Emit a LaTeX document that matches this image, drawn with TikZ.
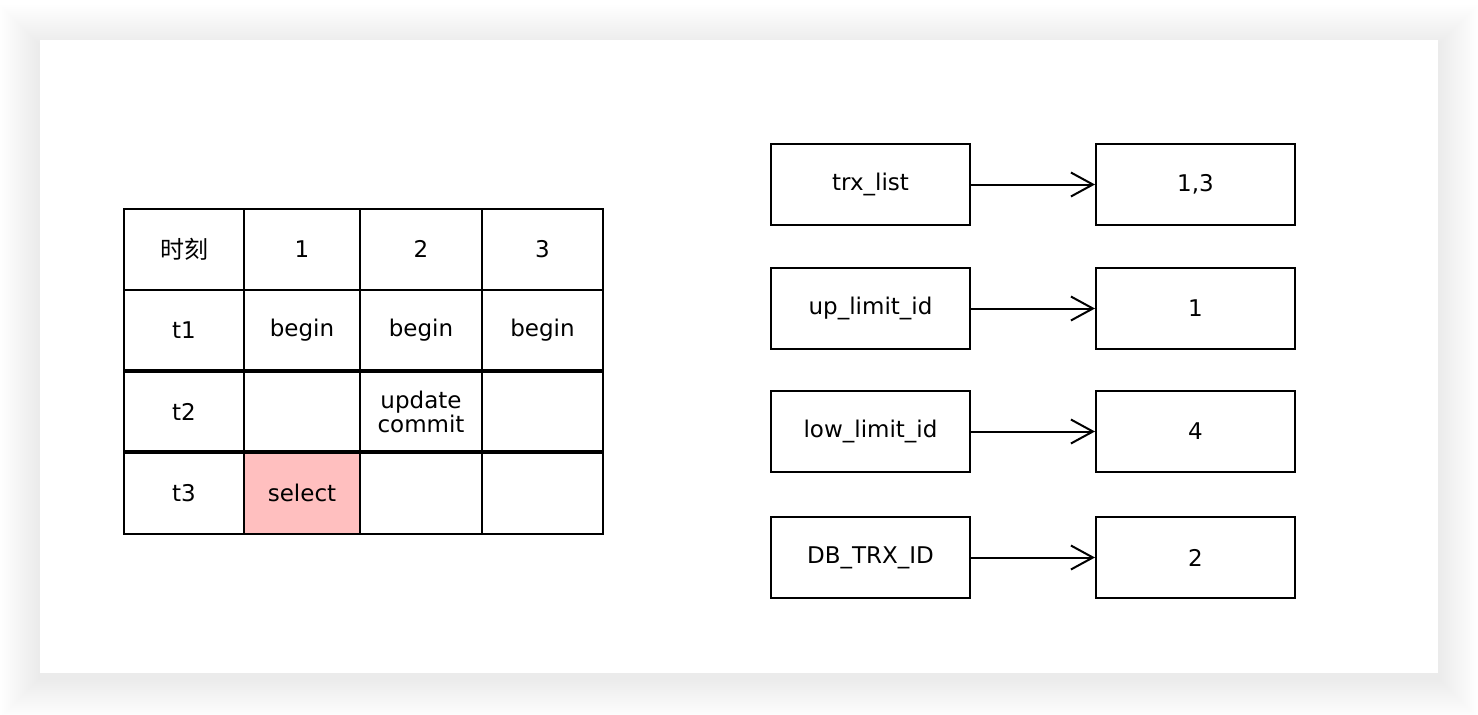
\documentclass[tikz,border=0pt]{standalone}
\usepackage{fontspec}
\setmainfont{DejaVu Sans}
\newfontfamily\cjk{Noto Sans CJK SC}
\usetikzlibrary{arrows.meta,positioning}
\definecolor{selpink}{HTML}{FFBFBF}

\begin{document}
\begin{tikzpicture}[x=0.5pt,y=-0.5pt,
    cell/.style={draw,line width=1pt,inner sep=0pt,minimum height=40.5pt,
      align=center,font=\fontsize{11.5}{12}\selectfont},
    field/.style={draw,line width=1pt,inner sep=0pt,minimum width=99.5pt,
      minimum height=40.5pt,font=\fontsize{11.5}{12}\selectfont},
    link/.style={line width=1pt,-{Straight Barb[length=11pt,width=12pt,line width=1pt]}}]
  \useasboundingbox (0,0) rectangle (1478,714);
  % card with soft shadow
  \foreach \i in {2,4,...,40}
    \fill[black,opacity=0.0025] (40-\i,40-\i+5) rectangle (1438+\i,673+\i+5);
  \fill[white] (40,40) rectangle (1438,673);
  % table
  \foreach \r/\y/\a/\b/\c/\d in {1/249/{\cjk\fontsize{12}{12}\selectfont 时刻}/1/2/3,
      2/330/t1/begin/begin/begin,
      3/412/t2/{}/{update\\commit}/{},
      4/493/t3/select/{}/{}} {
    \node[cell,minimum width=60pt] (m-\r-1) at (184,\y) {\a};
    \node[cell,minimum width=58pt] (m-\r-2) at (302,\y) {\b};
    \node[cell,minimum width=61pt] (m-\r-3) at (421,\y) {\c};
    \node[cell,minimum width=60.5pt] (m-\r-4) at (542.5,\y) {\d};
  }
  \node[cell,minimum width=58pt,fill=selpink] (sel) at (m-4-2) {select};
  \draw[line width=1.6pt] (m-3-1.north west) -- (m-3-4.north east)
                          (m-4-1.north west) -- (m-4-4.north east);
  % read view
  \foreach \n/\y/\k/\v in {trx/184.5/trx\_list/{1,3},
      up/308.5/up\_limit\_id/1,
      low/431.5/low\_limit\_id/4,
      db/557.5/DB\_TRX\_ID/2} {
    \node[field] (\n) at (870.5,\y) {\k};
    \node[field] (\n-v) at (1195.5,\y) {\v};
    \draw[link] (\n) -- (\n-v);
  }
\end{tikzpicture}
\end{document}
